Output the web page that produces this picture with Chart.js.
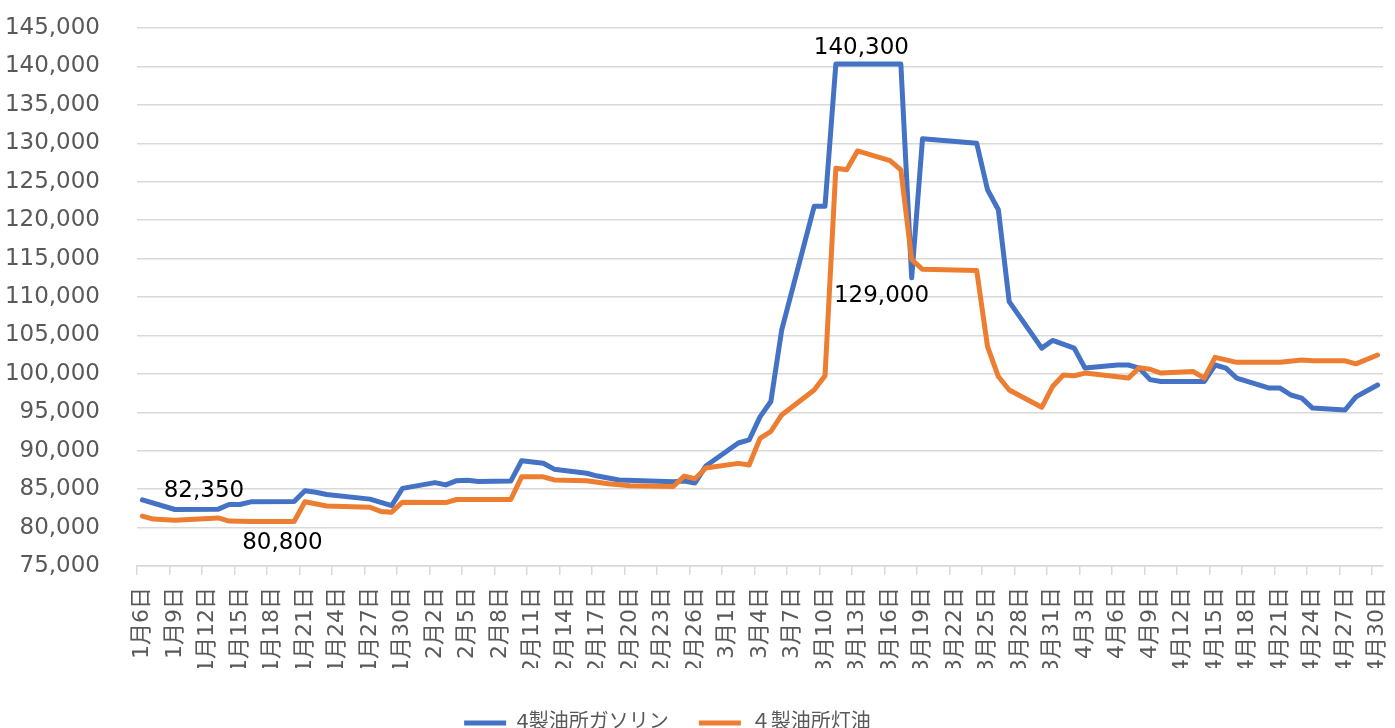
<!DOCTYPE html>
<html><head><meta charset="utf-8">
<script src="https://cdn.jsdelivr.net/npm/chart.js@4/dist/chart.umd.min.js"></script>
<style>html,body{margin:0;padding:0;background:#fff;overflow:hidden}canvas{display:block}</style>
</head><body>
<canvas id="c" width="1395" height="728" style="width:1395px;height:728px"></canvas>
<script>
const categories = [
'1月6日','1月7日','1月8日','1月9日','1月10日','1月11日','1月12日','1月13日','1月14日','1月15日','1月16日','1月17日','1月18日','1月19日','1月20日','1月21日','1月22日','1月23日','1月24日','1月25日','1月26日','1月27日','1月28日','1月29日','1月30日','1月31日',
'2月1日','2月2日','2月3日','2月4日','2月5日','2月6日','2月7日','2月8日','2月9日','2月10日','2月11日','2月12日','2月13日','2月14日','2月15日','2月16日','2月17日','2月18日','2月19日','2月20日','2月21日','2月22日','2月23日','2月24日','2月25日','2月26日','2月27日','2月28日',
'3月1日','3月2日','3月3日','3月4日','3月5日','3月6日','3月7日','3月8日','3月9日','3月10日','3月11日','3月12日','3月13日','3月14日','3月15日','3月16日','3月17日','3月18日','3月19日','3月20日','3月21日','3月22日','3月23日','3月24日','3月25日','3月26日','3月27日','3月28日','3月29日','3月30日','3月31日',
'4月1日','4月2日','4月3日','4月4日','4月5日','4月6日','4月7日','4月8日','4月9日','4月10日','4月11日','4月12日','4月13日','4月14日','4月15日','4月16日','4月17日','4月18日','4月19日','4月20日','4月21日','4月22日','4月23日','4月24日','4月25日','4月26日','4月27日','4月28日','4月29日','4月30日'
];

const gasolineName = '4製油所ガソリン';
const gasolineDates = ['1月6日','1月9日','1月13日','1月14日','1月15日','1月16日','1月20日','1月21日','1月22日','1月23日',
'1月27日','1月29日','1月30日','2月2日','2月3日','2月4日','2月5日','2月6日','2月9日','2月10日',
'2月12日','2月13日','2月16日','2月17日','2月19日','2月24日','2月25日','2月26日','2月27日','3月2日',
'3月3日','3月4日','3月5日','3月6日','3月9日','3月10日','3月11日','3月17日','3月18日','3月19日',
'3月24日','3月25日','3月26日','3月27日','3月30日','3月31日','4月2日','4月3日','4月6日','4月7日',
'4月8日','4月9日','4月10日','4月14日','4月15日','4月16日','4月17日','4月20日','4月21日','4月22日',
'4月23日','4月24日','4月27日','4月28日','4月30日'];
const gasolineValues = [83600,82350,82400,83000,83000,83350,83400,84800,84600,84300,
83700,82850,85100,85850,85550,86100,86150,86000,86050,88700,
88370,87600,87070,86700,86200,85950,86050,85800,88000,91000,
91400,94400,96400,105700,121800,121800,140300,140300,112500,130600,
130000,123950,121350,109400,103350,104350,103350,100750,101150,101150,
100750,99250,99000,99000,101150,100750,99450,98150,98150,97250,
96850,95550,95300,97000,98550];

const keroseneName = '４製油所灯油';
const keroseneDates = ['1月6日','1月7日','1月9日','1月13日','1月14日','1月16日','1月20日','1月21日','1月23日','1月27日',
'1月28日','1月29日','1月30日','2月3日','2月4日','2月9日','2月10日','2月12日','2月13日','2月16日',
'2月18日','2月20日','2月24日','2月25日','2月26日','2月27日','3月2日','3月3日','3月4日','3月5日',
'3月6日','3月9日','3月10日','3月11日','3月12日','3月13日','3月16日','3月17日','3月18日','3月19日',
'3月24日','3月25日','3月26日','3月27日','3月30日','3月31日','4月1日','4月2日','4月3日','4月7日',
'4月8日','4月9日','4月10日','4月13日','4月14日','4月15日','4月17日','4月21日','4月23日','4月24日',
'4月27日','4月28日','4月30日'];
const keroseneValues = [81500,81100,80950,81250,80850,80800,80800,83350,82800,82650,
82100,82000,83300,83250,83650,83650,86600,86600,86200,86100,
85700,85450,85350,86700,86350,87750,88350,88150,91600,92500,
94650,97900,99750,126750,126550,129000,127750,126550,114850,113600,
113450,103550,99650,97900,95650,98350,99850,99750,100100,99450,
100800,100600,100100,100300,99450,102150,101500,101500,101800,101700,
101700,101300,102450];

const yTicksMin = 75000, yTicksMax = 145000, yTickStep = 5000;

const calloutValues = [82350, 80800, 140300, 129000];
const calloutDates = ['1月9日', '1月18日', '3月14日', '3月13日'];

// ---- presentation ----
const FONT = '"DejaVu Sans", "Noto Sans CJK JP", sans-serif';
const CALLOUT_OFFSETS = [[29,-18],[10,22],[-7,-16],[24,145]];
const LEG_DX = -24, LEG_DY = 15;

const toPoints = (dates, vals) => dates.map((d, i) => ({x: d, y: vals[i]}));

const calloutPlugin = {
  id: 'callouts',
  afterDatasetsDraw(chart) {
    const {ctx, scales: {x, y}} = chart;
    ctx.save();
    ctx.font = '23px ' + FONT;
    ctx.fillStyle = '#000';
    ctx.textAlign = 'center';
    ctx.textBaseline = 'middle';
    calloutValues.forEach((v, k) => {
      const px = x.getPixelForValue(categories.indexOf(calloutDates[k]));
      const py = y.getPixelForValue(v);
      ctx.fillText(v.toLocaleString('en-US'), px + CALLOUT_OFFSETS[k][0], py + CALLOUT_OFFSETS[k][1]);
    });
    ctx.restore();
  }
};
const legendShift = {
  id: 'legendShift',
  afterLayout(chart) {
    const l = chart.legend; if (!l) return;
    l.left += LEG_DX; l.right += LEG_DX; l.top += LEG_DY; l.bottom += LEG_DY;
  }
};

new Chart(document.getElementById('c'), {
  type: 'line',
  data: {
    labels: categories,
    datasets: [
      {label: gasolineName, data: toPoints(gasolineDates, gasolineValues), borderColor: '#4472C4', backgroundColor: '#4472C4',
       borderWidth: 5, pointRadius: 0, pointStyle: 'line', tension: 0, borderJoinStyle: 'round', borderCapStyle: 'round', order: 2},
      {label: keroseneName, data: toPoints(keroseneDates, keroseneValues), borderColor: '#ED7D31', backgroundColor: '#ED7D31',
       borderWidth: 5, pointRadius: 0, pointStyle: 'line', tension: 0, borderJoinStyle: 'round', borderCapStyle: 'round', order: 1}
    ]
  },
  options: {
    responsive: false, animation: false, devicePixelRatio: 1,
    layout: {padding: {left: 0, right: 12, top: 28, bottom: 0}},
    plugins: {
      legend: {
        position: 'bottom',
        labels: {usePointStyle: true, pointStyleWidth: 42, padding: 30, color: '#595959',
                 font: {family: FONT, size: 20}, sort: (a, b) => a.datasetIndex - b.datasetIndex}
      },
      tooltip: {enabled: false}
    },
    scales: {
      x: {
        type: 'category', offset: true,
        afterFit(s) { s.height = 102; s.paddingRight = 0; s.paddingLeft = 0; },
        grid: {offset: true, drawOnChartArea: false, drawTicks: true, tickLength: 9, lineWidth: 1.5,
               color: (c) => (c.index !== undefined && c.index % 3 === 0) ? '#d9d9d9' : 'rgba(0,0,0,0)'},
        border: {display: true, color: '#d9d9d9', width: 1.5},
        ticks: {autoSkip: false, minRotation: 90, maxRotation: 90, padding: 12, color: '#595959',
                font: {family: FONT, size: 22},
                callback: (v, i) => (i % 3 === 0 ? categories[i] : '')}
      },
      y: {
        min: yTicksMin, max: yTicksMax,
        afterFit(s) { s.width = 137; s.paddingTop = 0; s.paddingBottom = 0; },
        grid: {color: '#d9d9d9', lineWidth: 1.5, drawTicks: false},
        border: {display: false},
        ticks: {stepSize: yTickStep, padding: 37, color: '#595959', font: {family: FONT, size: 23},
                callback: (v) => v.toLocaleString('en-US')}
      }
    }
  },
  plugins: [calloutPlugin, legendShift]
});
</script>
</body></html>
